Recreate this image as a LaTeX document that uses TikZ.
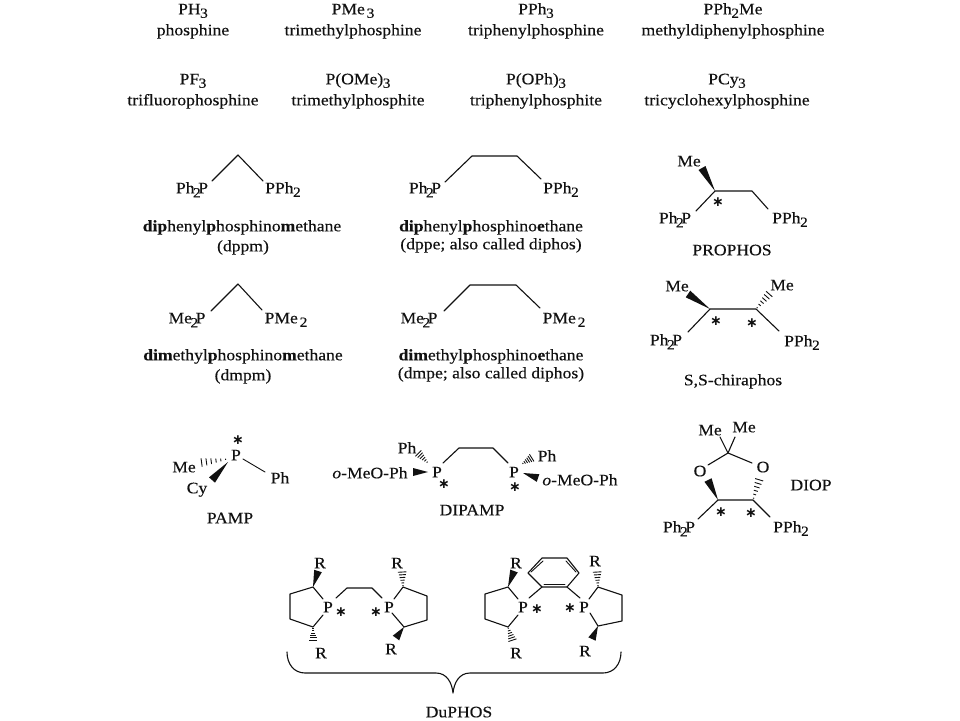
\documentclass[tikz,border=0pt]{standalone}
\usepackage{fontspec}
\setmainfont[FakeStretch=1.1,FakeBold=0.25]{Liberation Serif}
\newfontfamily\starfont{DejaVu Sans}
\usetikzlibrary{calc}
\definecolor{ink}{HTML}{111111}
\newcommand{\dn}[1]{\kern-.5pt\raisebox{-3.5pt}{\fontsize{14}{14}\selectfont #1}}
\newcommand{\dnt}[1]{\kern-1.5pt\raisebox{-4pt}{\fontsize{14}{14}\selectfont #1}\kern-2.5pt}
\newcommand{\wedgeb}[2]{\fill[ink] (#1) -- ($(#2)!4pt!90:(#1)$) -- ($(#2)!4pt!-90:(#1)$) -- cycle;}
\newcommand{\hashb}[2]{\foreach \t/\w in {.08/.6,.24/1.4,.4/2.1,.56/2.8,.72/3.5,.88/4.2}{\draw[hashline] ($(#1)!\t!(#2)!\w pt!90:(#2)$) -- ($(#1)!\t!(#2)!-\w pt!90:(#2)$);}}
\tikzset{
  lbl/.style={inner sep=0pt,text=ink,font=\fontsize{16}{18}\selectfont,text height=10.6pt,text depth=0pt},
  starmark/.style={inner sep=0pt,text=ink,font=\fontsize{14}{14}\selectfont\starfont\bfseries},
  bond/.style={draw=ink,line width=1.1pt,line cap=round,line join=round},
  hashline/.style={draw=ink,line width=.9pt},
}
\newcommand{\chiralmark}{\symbol{"2217}}
\begin{document}
\begin{tikzpicture}[x=1pt,y=-1pt]
\useasboundingbox[fill=white] (0,0) rectangle (960,720);
% simple ligands
\node[lbl] (a1) at (193,9) {PH\dn{3}};
\node[lbl] (a2) at (193,30) {phosphine};
\node[lbl] (b1) at (353,9) {PMe\dn{\,3}};
\node[lbl] (b2) at (353,30) {trimethylphosphine};
\node[lbl] (c1) at (536,9) {PPh\dn{3}};
\node[lbl] (c2) at (536,30) {triphenylphosphine};
\node[lbl] (d1) at (733,9) {PPh\dn{2}Me};
\node[lbl] (d2) at (733,30) {methyldiphenylphosphine};
\node[lbl] (e1) at (193,79) {PF\dn{3}};
\node[lbl] (e2) at (193,100) {trifluorophosphine};
\node[lbl] (f1) at (358,79) {P(OMe)\dn{3}};
\node[lbl] (f2) at (358,100) {trimethylphosphite};
\node[lbl] (g1) at (536,79) {P(OPh)\dn{3}};
\node[lbl] (g2) at (536,100) {triphenylphosphite};
\node[lbl] (h1) at (727,79) {PCy\dn{3}};
\node[lbl] (h2) at (727,100) {tricyclohexylphosphine};
% dppm
\node[lbl] (dppmL) at (192,188) {Ph\dnt{2}P};
\node[lbl] (dppmR) at (283,188) {PPh\dn{2}};
\coordinate (dppm0) at (238,155);
\path[bond] (212,181) -- (dppm0) -- (263,181);
\node[lbl] (dppmN) at (242,226) {\textbf{dip}henyl\textbf{p}hosphino\textbf{m}ethane};
\node[lbl] (dppmS) at (243,246) {(dppm)};
% dppe
\node[lbl] (dppeL) at (425,188) {Ph\dnt{2}P};
\node[lbl] (dppeR) at (561,188) {PPh\dn{2}};
\path[bond] (445,182) -- (472,156) -- (517,156) -- (541,179);
\node[lbl] (dppeN) at (491,226) {\textbf{dip}henyl\textbf{p}hosphino\textbf{e}thane};
\node[lbl] (dppeS) at (491,244) {(dppe; also called diphos)};
% dmpm
\node[lbl] (dmpmL) at (187,318) {Me\dnt{2}P};
\node[lbl] (dmpmR) at (286,318) {PMe\dn{\,2}};
\path[bond] (211,311) -- (238,284) -- (262,310);
\node[lbl] (dmpmN) at (243,355) {\textbf{dim}ethyl\textbf{p}hosphino\textbf{m}ethane};
\node[lbl] (dmpmS) at (243,375) {(dmpm)};
% dmpe
\node[lbl] (dmpeL) at (419,318) {Me\dnt{2}P};
\node[lbl] (dmpeR) at (564,318) {PMe\dn{\,2}};
\path[bond] (444,311) -- (470,285) -- (516,285) -- (540,308);
\node[lbl] (dmpeN) at (491,355) {\textbf{dim}ethyl\textbf{p}hosphino\textbf{e}thane};
\node[lbl] (dmpeS) at (491,373) {(dmpe; also called diphos)};
% PROPHOS
\node[lbl] (proMe) at (689,161) {Me};
\node[lbl] (proL) at (675,218) {Ph\dnt{2}P};
\node[lbl] (proR) at (790,218) {PPh\dn{2}};
\coordinate (pro1) at (715,191);
\coordinate (pro2) at (752,191);
\coordinate (prow) at (702,168);
\wedgeb{pro1}{prow}
\path[bond] (696,211) -- (pro1) -- (pro2) -- (768,209);
\node[starmark] (proS) at (718,202) {\chiralmark};
\node[lbl] (proN) at (732,250) {PROPHOS};
% chiraphos
\node[lbl] (chiMe1) at (677,286) {Me};
\node[lbl] (chiMe2) at (782,285) {Me};
\node[lbl] (chiL) at (666,340) {Ph\dnt{2}P};
\node[lbl] (chiR) at (802,341) {PPh\dn{2}};
\coordinate (chi1) at (710,309);
\coordinate (chi2) at (756,309);
\coordinate (chiw) at (688,294);
\coordinate (chih) at (771,292);
\wedgeb{chi1}{chiw}
\hashb{chi2}{chih}
\path[bond] (688,332) -- (chi1) -- (chi2) -- (779,331);
\node[starmark] (chiS1) at (716,321) {\chiralmark};
\node[starmark] (chiS2) at (752,323) {\chiralmark};
\node[lbl] (chiN) at (733,380) {S,S-chiraphos};
% PAMP
\node[starmark] (pamS) at (238,440) {\chiralmark};
\node[lbl] (pamP) at (236,455) {P};
\node[lbl] (pamMe) at (184,467) {Me};
\node[lbl] (pamCy) at (197,488) {Cy};
\node[lbl] (pamPh) at (280,478) {Ph};
\coordinate (pam1) at (228,459);
\coordinate (pam2) at (198,463);
\coordinate (pam3) at (228,462);
\coordinate (pam4) at (212,480);
\hashb{pam1}{pam2}
\wedgeb{pam3}{pam4}
\path[bond,line width=.9pt] (243,459) -- (265,472);
\node[lbl] (pamN) at (230,518) {PAMP};
% DIPAMP
\node[lbl] (dipPh1) at (407,448) {Ph};
\node[lbl] (dipP1) at (437,472) {P};
\node[lbl] (dipA1) at (370,473) {\textit{o}-MeO-Ph};
\node[starmark] (dipS1) at (444,484) {\chiralmark};
\coordinate (dip1) at (428,463);
\coordinate (dip2) at (417,452);
\coordinate (dip3) at (428,472);
\coordinate (dip4) at (413,472);
\hashb{dip1}{dip2}
\wedgeb{dip3}{dip4}
\path[bond] (443,463) -- (459,448) -- (493,448) -- (508,463);
\node[lbl] (dipP2) at (514,472) {P};
\node[starmark] (dipS2) at (515,487) {\chiralmark};
\coordinate (dip5) at (522,464);
\coordinate (dip6) at (533,457);
\coordinate (dip7) at (523,473);
\coordinate (dip8) at (538,478);
\hashb{dip5}{dip6}
\wedgeb{dip7}{dip8}
\node[lbl] (dipPh2) at (547,456) {Ph};
\node[lbl] (dipA2) at (580,480) {\textit{o}-MeO-Ph};
\node[lbl] (dipN) at (472,510) {DIPAMP};
% DIOP
\node[lbl] (dioMe1) at (710,430) {Me};
\node[lbl] (dioMe2) at (744,427) {Me};
\node[lbl] (dioO1) at (700,471) {O};
\node[lbl] (dioO2) at (763,467) {O};
\coordinate (dioC) at (728,453);
\coordinate (dio1) at (718,500);
\coordinate (dio2) at (753,500);
\coordinate (diow) at (708,480);
\coordinate (dioh) at (760,477);
\path[bond] (720,437) -- (dioC) -- (735,437);
\path[bond] (708,465) -- (dioC) -- (752,463);
\wedgeb{dio1}{diow}
\hashb{dio2}{dioh}
\path[bond] (698,519) -- (dio1) -- (dio2) -- (770,517);
\node[starmark] (dioS1) at (721,512) {\chiralmark};
\node[starmark] (dioS2) at (751,513) {\chiralmark};
\node[lbl] (dioL) at (679,527) {Ph\dnt{2}P};
\node[lbl] (dioR) at (791,527) {PPh\dn{2}};
\node[lbl] (dioN) at (811,485) {DIOP};
% DuPHOS 1
\node[lbl] (d1P1) at (328,607) {P};
\node[lbl] (d1R1) at (320,563) {R};
\node[lbl] (d1R2) at (321,653) {R};
\node[starmark] (d1S1) at (341,612) {\chiralmark};
\coordinate (d1a) at (313,587);
\coordinate (d1b) at (290,594);
\coordinate (d1c) at (290,619);
\coordinate (d1d) at (313,627);
\coordinate (d1w) at (318,571);
\coordinate (d1h) at (313,642);
\wedgeb{d1a}{d1w}
\hashb{d1d}{d1h}
\path[bond] (323,599) -- (d1a) -- (d1b) -- (d1c) -- (d1d) -- (323,615);
\path[bond] (336,598) -- (347,588) -- (372,588) -- (382,598);
\node[lbl] (d1P2) at (389,607) {P};
\node[starmark] (d1S2) at (376,612) {\chiralmark};
\node[lbl] (d1R3) at (397,563) {R};
\node[lbl] (d1R4) at (391,649) {R};
\coordinate (d1e) at (403,587);
\coordinate (d1f) at (427,596);
\coordinate (d1g) at (427,620);
\coordinate (d1i) at (404,627);
\coordinate (d1j) at (402,570);
\coordinate (d1k) at (396,638);
\hashb{d1e}{d1j}
\wedgeb{d1i}{d1k}
\path[bond] (394,599) -- (d1e) -- (d1f) -- (d1g) -- (d1i) -- (392,613);
% DuPHOS 2
\node[lbl] (d2P1) at (523,607) {P};
\node[lbl] (d2R1) at (516,563) {R};
\node[lbl] (d2R2) at (516,653) {R};
\node[starmark] (d2S1) at (537,609) {\chiralmark};
\coordinate (d2a) at (508,587);
\coordinate (d2b) at (485,594);
\coordinate (d2c) at (485,619);
\coordinate (d2d) at (508,627);
\coordinate (d2w) at (514,571);
\coordinate (d2h) at (513,642);
\wedgeb{d2a}{d2w}
\hashb{d2d}{d2h}
\path[bond] (518,599) -- (d2a) -- (d2b) -- (d2c) -- (d2d) -- (518,615);
\coordinate (bz1) at (542,587);
\coordinate (bz2) at (567,587);
\coordinate (bz3) at (579,573);
\coordinate (bz4) at (567,558);
\coordinate (bz5) at (542,558);
\coordinate (bz6) at (528,573);
\path[bond] (bz1) -- (bz2) -- (bz3) -- (bz4) -- (bz5) -- (bz6) -- cycle;
\path[bond] (529,598) -- (bz1);
\path[bond] (bz2) -- (580,598);
\path[bond,line width=.9pt] (544,584) -- (565,584);
\path[bond,line width=.9pt] (531,572) -- (543,561);
\path[bond,line width=.9pt] (566,561) -- (576,572);
\node[lbl] (d2P2) at (584,607) {P};
\node[starmark] (d2S2) at (570,608) {\chiralmark};
\node[lbl] (d2R3) at (595,561) {R};
\node[lbl] (d2R4) at (585,651) {R};
\coordinate (d2e) at (598,587);
\coordinate (d2f) at (622,595);
\coordinate (d2g) at (622,621);
\coordinate (d2i) at (598,626);
\coordinate (d2j) at (597,570);
\coordinate (d2k) at (592,639);
\hashb{d2e}{d2j}
\wedgeb{d2i}{d2k}
\path[bond] (589,599) -- (d2e) -- (d2f) -- (d2g) -- (d2i) -- (590,613);
% brace
\coordinate (brL) at (287,652);
\coordinate (brT) at (453,693);
\coordinate (brR) at (621,652);
\path[bond] (brL) .. controls (287,664) and (294,673) .. (305,673) -- (436,673) .. controls (447,673) and (452,683) .. (brT) .. controls (454,683) and (459,673) .. (470,673) -- (603,673) .. controls (614,673) and (621,664) .. (brR);
\node[lbl] (duN) at (459,712) {DuPHOS};
\end{tikzpicture}
\end{document}
